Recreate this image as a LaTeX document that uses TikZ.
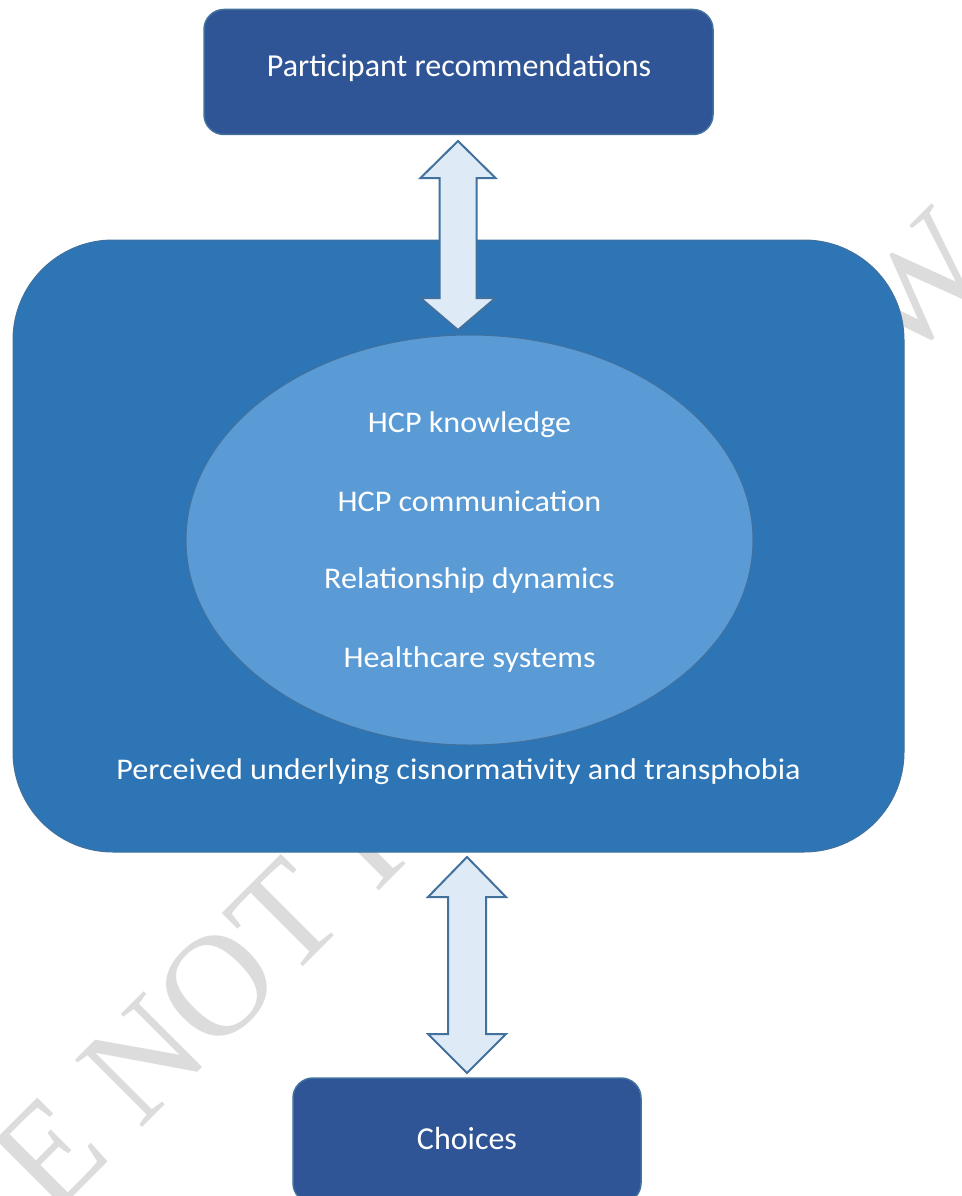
\documentclass[tikz,border=0pt]{standalone}
\usepackage{fontspec}
\setmainfont{Carlito}
\newfontfamily\wmfont{Liberation Serif}
\usetikzlibrary{shapes.geometric,calc}
\definecolor{darkbox}{HTML}{2F5597}
\definecolor{bigbox}{HTML}{2E75B6}
\definecolor{ellfill}{HTML}{5B9BD5}
\definecolor{arrfill}{HTML}{DEEBF7}
\definecolor{edge}{HTML}{41719C}
\definecolor{wmgray}{HTML}{DCDCDC}
\newcommand{\wide}[1]{\scalebox{1.07}[1]{#1}}
\tikzset{
  darknode/.style={draw=edge, line width=1.5pt, fill=darkbox, rounded corners=20pt, inner sep=0pt},
  bignode/.style={draw=edge, line width=1pt, fill=bigbox, rounded corners=100pt, inner sep=0pt},
  ellnode/.style={ellipse, draw=edge, line width=1pt, fill=ellfill, inner sep=0pt},
  bigtext/.style={text=white, font=\fontsize{32}{38}\selectfont, anchor=base, inner sep=0pt},
  smalltext/.style={text=white, font=\fontsize{30}{36}\selectfont, anchor=base, inner sep=0pt},
  blk/.style={draw=edge, line width=2pt, fill=arrfill, line join=miter},
  wm/.style={text=wmgray, font=\fontsize{145}{145}\wmfont, rotate=45, inner sep=0pt}
}
\begin{document}
\begin{tikzpicture}[x=1pt,y=-1pt]
\useasboundingbox (0,0) rectangle (961,1196);
\clip (0,0) rectangle (961,1196);
\fill[white] (0,0) rectangle (961,1196);
% watermark
\node[wm] (wm1) at (197,1006) {E NOT I};
\node[wm] (wm2) at (918,286) {W};
% shapes
\node[bignode, minimum width=891pt, minimum height=612pt] (big) at (458.5,546) {};
\node[ellnode, minimum width=567pt, minimum height=410pt] (ell) at (469.5,540) {};
\node[darknode, minimum width=509pt, minimum height=125pt] (top) at (458.5,72) {};
\node[darknode, minimum width=348pt, minimum height=125pt] (bot) at (467,1140.5) {};
% texts
\node[bigtext] (ttop) at (459,77) {Participant recommendations};
\node[bigtext] (tbot) at (467,1149) {Choices};
\node[smalltext] (t1) at (469.5,432) {\wide{HCP knowledge}};
\node[smalltext] (t2) at (469.5,511) {\wide{HCP communication}};
\node[smalltext] (t3) at (469.5,588) {\wide{Relationship dynamics}};
\node[smalltext] (t4) at (469.5,667) {\wide{Healthcare systems}};
\node[smalltext] (t5) at (458.5,779) {\wide{Perceived underlying cisnormativity and transphobia}};
% double arrows
\coordinate (a1) at (458,235.5);
\coordinate (a2) at (467,965);
\begin{scope}[shift={(a1)}]
\draw[blk] (0,-94.5) -- (37.5,-57.5) -- (18.5,-57.5) -- (18.5,62.5) -- (37.5,62.5) -- (0,94.5) -- (-37.5,62.5) -- (-18.5,62.5) -- (-18.5,-57.5) -- (-37.5,-57.5) -- cycle;
\end{scope}
\begin{scope}[shift={(a2)}]
\draw[blk] (0,-108) -- (39,-68) -- (19,-68) -- (19,69) -- (39,69) -- (0,108) -- (-39,69) -- (-19,69) -- (-19,-68) -- (-39,-68) -- cycle;
\end{scope}
\end{tikzpicture}
\end{document}
